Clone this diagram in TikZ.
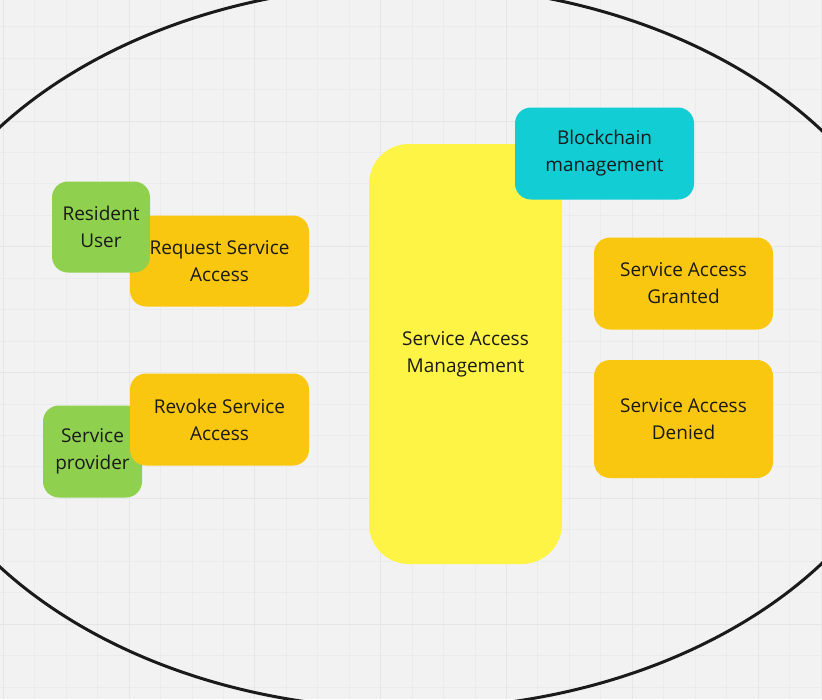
\documentclass[tikz,border=0pt]{standalone}
\usepackage{fontspec}
\setmainfont{Open Sans}
\usetikzlibrary{positioning}
\definecolor{boardbg}{HTML}{F2F2F2}
\definecolor{gridminor}{HTML}{EBEBEB}
\definecolor{gridmajor}{HTML}{E6E6E6}
\definecolor{stickygreen}{HTML}{8FD14F}
\definecolor{stickyorange}{HTML}{FAC710}
\definecolor{stickyyellow}{HTML}{FEF445}
\definecolor{stickycyan}{HTML}{12CDD4}
\definecolor{inkdark}{HTML}{1A1A1A}
\tikzset{
	board/.style={x=1pt, y=-1pt},
	sticky/.style={
		rounded corners=16pt,
		align=center,
		inner sep=0pt,
		text=inkdark,
		font=\fontsize{19}{27}\selectfont},
	sticky size/.style 2 args={minimum width=#1pt, minimum height=#2pt},
	actor/.style={sticky, fill=stickygreen},
	action/.style={sticky, fill=stickyorange},
	outcome/.style={sticky, fill=stickyorange},
	ledger/.style={sticky, fill=stickycyan},
	manager/.style={sticky, fill=stickyyellow, rounded corners=40pt},
	boundary/.style={draw=inkdark, line width=3pt}
}

\begin{document}
\begin{tikzpicture}[board]
   \fill[boardbg] (0,0) rectangle (822,699);
   \useasboundingbox (0,0) rectangle (822,699);
   \clip (0,0) rectangle (822,699);
   % board grid
   \foreach \i in {0,...,26} {
      \draw[gridminor, line width=1pt] ({3.3+31.45*\i},0) -- ++(0,699);
   }
   \foreach \i in {0,...,22} {
      \draw[gridminor, line width=1pt] (0,{-4.8+31.45*\i}) -- ++(822,0);
   }
   \foreach \i in {0,...,6} {
      \draw[gridmajor, line width=1pt] ({3.3+125.8*\i},0) -- ++(0,699);
      \draw[gridmajor, line width=1pt] (0,{-4.8+125.8*\i}) -- ++(822,0);
   }
   \draw[boundary] (409,347) ellipse [x radius=515pt, y radius=362pt];
   \node[action, sticky size={179}{91}] (request) at (219.5,261) {Request Service\\Access};
   \node[actor, sticky size={98}{91}] (resident) at (101,227) {Resident\\User};
   \node[actor, sticky size={99}{92}] (provider) at (92.5,451.5) {Service\\provider};
   \node[action, sticky size={179}{92}] (revoke) at (219.5,419.5) {Revoke Service\\Access};
   \node[manager, sticky size={193}{420}] (sam) at (465.5,354) {Service Access\\Management};
   \node[ledger, sticky size={179}{92}] (chain) at (604.5,153.5) {Blockchain\\management};
   \node[outcome, sticky size={179}{92}] (granted) at (683.5,283.5) {Service Access\\Granted};
   \node[outcome, sticky size={179}{118}] (denied) at (683.5,419) {Service Access\\Denied};
\end{tikzpicture}
\end{document}
